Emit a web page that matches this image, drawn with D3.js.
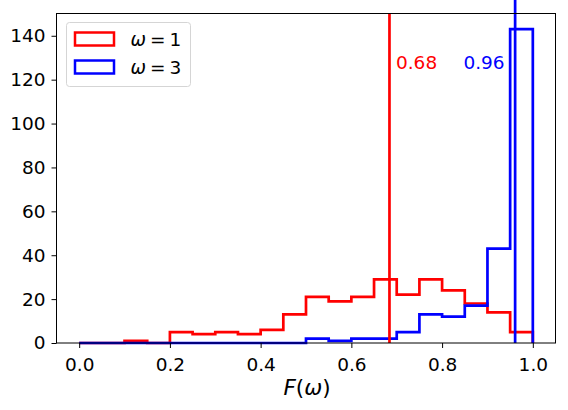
<!DOCTYPE html>
<html><head><meta charset="utf-8">
<script src="https://cdn.jsdelivr.net/npm/d3@7"></script>
<style>body{margin:0;background:#fff}svg{display:block}text{font-family:"DejaVu Sans",sans-serif}</style>
</head><body>
<script>
const binEdges = [0,0.05,0.1,0.15,0.2,0.25,0.3,0.35,0.4,0.45,0.5,0.55,0.6,0.65,0.7,0.75,0.8,0.85,0.9,0.95,1.0];
const countsW1 = [0,0,1,0,5,4,5,4,6,13,21,19,21,29,22,29,24,18,14,5];
const countsW3 = [0,0,0,0,0,0,0,0,0,0,2,1,2,2,5,13,12,17,43,143];
const seriesNames = ["1","3"];
const seriesColors = ["#ff0000","#0000ff"];
const markerX = [0.684, 0.961];
const markerTop = [150.15, 157];
const markerLabels = ["0.68","0.96"];
const markerLabelY = 125;
const xTicks = [0,0.2,0.4,0.6,0.8,1.0];
const yTicks = [0,20,40,60,80,100,120,140];

const W=568,H=410;
const svg=d3.select("body").append("svg").attr("width",W).attr("height",H);
const L=56.5,R=555.5,T=13.5,B=343;
const x=d3.scaleLinear().domain([-0.05,1.05]).range([L,R]);
const y=d3.scaleLinear().domain([0,150.15]).range([B,T]);

const line=d3.line().x(d=>x(d[0])).y(d=>y(d[1]));
function stepPts(counts){
  const p=[[binEdges[0],0]];
  counts.forEach((c,i)=>{p.push([binEdges[i],c]);p.push([binEdges[i+1],c]);});
  p.push([binEdges[binEdges.length-1],0]);
  return p;
}
[countsW1,countsW3].forEach((c,i)=>{
  svg.append("path").attr("d",line(stepPts(c))).attr("fill","none")
    .attr("stroke",seriesColors[i]).attr("stroke-width",2.7).attr("stroke-linejoin","miter");
});
markerX.forEach((m,i)=>{
  svg.append("line").attr("x1",x(m)).attr("x2",x(m)).attr("y1",y(0)).attr("y2",y(markerTop[i]))
    .attr("stroke",seriesColors[i]).attr("stroke-width",2.7);
});
svg.append("text").attr("x",x(markerX[0])+6.5).attr("y",y(markerLabelY)).attr("fill",seriesColors[0])
  .attr("font-size",18.5).text(markerLabels[0]);
svg.append("text").attr("x",x(markerX[1])-10.5).attr("y",y(markerLabelY)).attr("fill",seriesColors[1])
  .attr("text-anchor","end").attr("font-size",18.5).text(markerLabels[1]);

// frame
svg.append("rect").attr("x",L).attr("y",T).attr("width",R-L).attr("height",B-T)
  .attr("fill","none").attr("stroke","#000").attr("stroke-width",1);

const xa=svg.append("g").attr("transform",`translate(0,${B})`)
  .call(d3.axisBottom(x).tickValues(xTicks).tickFormat(d3.format(".1f")).tickSize(5).tickSizeOuter(0).tickPadding(5));
const ya=svg.append("g").attr("transform",`translate(${L},0)`)
  .call(d3.axisLeft(y).tickValues(yTicks).tickFormat(d3.format("d")).tickSize(5).tickSizeOuter(0).tickPadding(6));
[xa,ya].forEach(a=>{a.select(".domain").remove();a.selectAll("text").attr("font-size",18.5).attr("fill","#000").style("font-family","DejaVu Sans");a.selectAll("line").attr("stroke","#000");});
xa.selectAll("text").attr("dy","0.95em");

// x label
const xl=svg.append("text").attr("x",(L+R)/2+1).attr("y",395).attr("text-anchor","middle").attr("font-size",21.5);
xl.append("tspan").attr("font-style","italic").text("F");
xl.append("tspan").text("(");
xl.append("tspan").attr("font-style","italic").text("ω");
xl.append("tspan").text(")");

// legend
const lg=svg.append("g");
lg.append("rect").attr("x",66.5).attr("y",22.5).attr("width",124).attr("height",64).attr("rx",3)
  .attr("fill","#fff").attr("fill-opacity",0.8).attr("stroke","#d5d5d5").attr("stroke-width",1);
seriesNames.forEach((n,i)=>{
  const yy=32.5+i*28;
  lg.append("rect").attr("x",75).attr("y",yy).attr("width",39).attr("height",13).attr("fill","none")
    .attr("stroke",seriesColors[i]).attr("stroke-width",2.5);
  const t=lg.append("text").attr("x",130.5).attr("y",46+i*28).attr("font-size",18.5);
  t.append("tspan").attr("font-style","italic").text("ω");
  t.append("tspan").attr("dx",4).text("=");
  t.append("tspan").attr("dx",4).text(n);
});
</script>
</body></html>
